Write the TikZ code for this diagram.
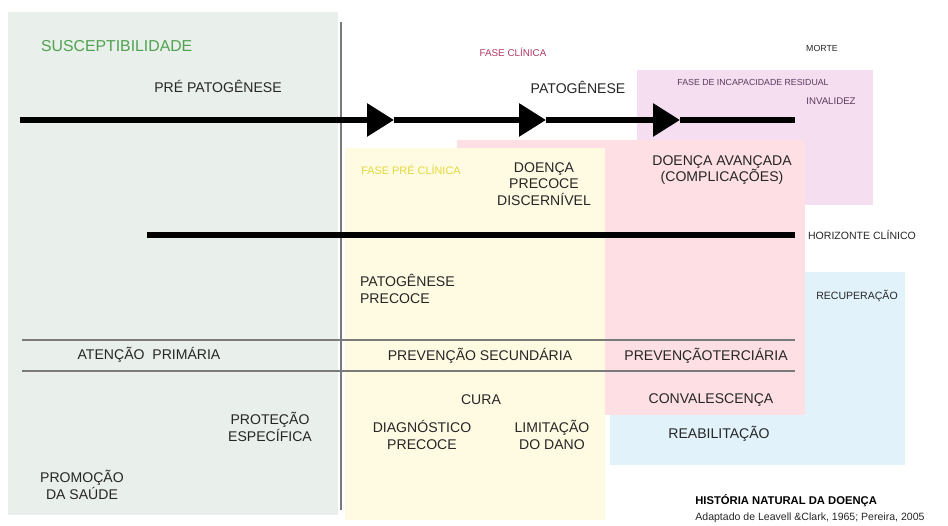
\documentclass[tikz,border=0pt]{standalone}
\usepackage{fontspec}
\setsansfont{Liberation Sans}
\usetikzlibrary{arrows.meta,positioning}
\definecolor{PanelGreen}{HTML}{E9EFEA}
\definecolor{PanelYellow}{HTML}{FFFBE2}
\definecolor{PanelPink}{HTML}{FDDFE4}
\definecolor{PanelLilac}{HTML}{F5DEF0}
\definecolor{PanelBlue}{HTML}{E2F2FB}
\definecolor{TextGray}{HTML}{262626}
\definecolor{LineGray}{HTML}{7A7A7A}
\definecolor{SuscGreen}{HTML}{4FA24F}
\definecolor{ClinRed}{HTML}{B23A62}
\definecolor{PreYellow}{HTML}{E2D83A}
\definecolor{LilacText}{HTML}{5A3A5E}

\begin{document}
\begin{tikzpicture}[
    font=\sffamily,
    panel/.style={fill=#1, draw=none, inner sep=0pt},
    lbl/.style={font=\sffamily\fontsize{8}{9.5}\selectfont, text=TextGray, align=center, inner sep=1pt},
    minilbl/.style={font=\sffamily\fontsize{5.6}{6.5}\selectfont, text=#1, inner sep=1pt},
    minilbl/.default=TextGray,
    timeline/.style={draw=black, line width=3.4pt},
    divider/.style={draw=LineGray, line width=1pt},
    bigtip/.style={-{Triangle[length=0.54cm, width=0.64cm]}}
]
  \useasboundingbox (0,0) rectangle (18.96,10.52);

  % Paineis de fundo
  \node[panel=PanelBlue, minimum width=5.9cm, minimum height=3.86cm] (p_rec) at (15.15, 3.15) {};
  \node[panel=PanelLilac, minimum width=4.72cm, minimum height=2.7cm] (p_inc) at (15.1, 7.77) {};
  \node[panel=PanelPink, minimum width=6.96cm, minimum height=5.5cm] (p_clin) at (12.62, 4.97) {};
  \node[panel=PanelYellow, minimum width=5.2cm, minimum height=7.44cm] (p_pre) at (9.5, 3.84) {};
  \node[panel=PanelGreen, minimum width=6.6cm, minimum height=10.06cm] (p_susc) at (3.46, 5.25) {};

  % =========================================================================
  % LINHAS
  % =========================================================================
  \coordinate (v_top) at (6.82, 10.08);
  \coordinate (v_bot) at (6.82, 0.32);
  \draw[divider] (v_top) -- (v_bot);

  \coordinate (d1_l) at (0.44, 3.72);
  \coordinate (d1_r) at (15.9, 3.72);
  \coordinate (d2_l) at (0.44, 3.1);
  \coordinate (d2_r) at (15.9, 3.1);
  \draw[divider] (d1_l) -- (d1_r);
  \draw[divider] (d2_l) -- (d2_r);

  % linha do tempo com setas
  \coordinate (t_0) at (0.4, 8.12);
  \coordinate (t_1) at (7.88, 8.12);
  \coordinate (t_2) at (10.92, 8.12);
  \coordinate (t_3) at (13.6, 8.12);
  \coordinate (t_4) at (15.9, 8.12);
  \draw[timeline, bigtip] (t_0) -- (t_1);
  \draw[timeline, bigtip] (t_1) -- (t_2);
  \draw[timeline, bigtip] (t_2) -- (t_3);
  \draw[timeline] (t_3) -- (t_4);

  % horizonte clinico
  \coordinate (h_0) at (2.94, 5.82);
  \coordinate (h_1) at (15.9, 5.82);
  \draw[timeline] (h_0) -- (h_1);

  % =========================================================================
  % TEXTOS SUPERIORES
  % =========================================================================
  \node[lbl, text=SuscGreen, font=\sffamily\fontsize{9}{10}\selectfont, anchor=west] (susc) at (0.78, 9.6) {SUSCEPTIBILIDADE};
  \node[lbl] (prepat) at (4.36, 8.8) {PRÉ PATOGÊNESE};
  \node[minilbl=ClinRed] (fclin) at (10.26, 9.48) {FASE CLÍNICA};
  \node[minilbl, font=\sffamily\fontsize{5}{6}\selectfont] (morte) at (16.44, 9.56) {MORTE};
  \node[lbl] (pat) at (11.56, 8.78) {PATOGÊNESE};
  \node[minilbl=LilacText, font=\sffamily\fontsize{5}{6}\selectfont] (fincap) at (15.06, 8.88) {FASE DE INCAPACIDADE RESIDUAL};
  \node[minilbl=LilacText, font=\sffamily\fontsize{5.5}{6}\selectfont] (inval) at (16.62, 8.5) {INVALIDEZ};

  \node[minilbl=PreYellow, font=\sffamily\fontsize{6.2}{7}\selectfont] (fpre) at (8.22, 7.12) {FASE PRÉ CLÍNICA};
  \node[lbl] (dprec) at (10.88, 6.84) {DOENÇA\\PRECOCE\\DISCERNÍVEL};
  \node[lbl] (dav) at (14.44, 7.12) {DOENÇA AVANÇADA\\(COMPLICAÇÕES)};
  \node[minilbl, font=\sffamily\fontsize{6}{7}\selectfont, anchor=west] (horiz) at (16.12, 5.82) {HORIZONTE CLÍNICO};

  \node[lbl, align=left, anchor=west] (patprec) at (7.16, 4.74) {PATOGÊNESE\\PRECOCE};
  \node[minilbl, font=\sffamily\fontsize{6}{7}\selectfont] (recup) at (17.14, 4.6) {RECUPERAÇÃO};

  % =========================================================================
  % NIVEIS DE PREVENCAO
  % =========================================================================
  \node[lbl] (aprim) at (2.98, 3.42) {ATENÇÃO\ \ PRIMÁRIA};
  \node[lbl] (psec) at (9.6, 3.4) {PREVENÇÃO SECUNDÁRIA};
  \node[lbl] (pter) at (14.12, 3.4) {PREVENÇÃOTERCIÁRIA};

  \node[lbl] (cura) at (9.62, 2.52) {CURA};
  \node[lbl] (diag) at (8.44, 1.82) {DIAGNÓSTICO\\PRECOCE};
  \node[lbl] (limit) at (11.04, 1.82) {LIMITAÇÃO\\DO DANO};
  \node[lbl] (conv) at (14.22, 2.52) {CONVALESCENÇA};
  \node[lbl] (reab) at (14.38, 1.84) {REABILITAÇÃO};
  \node[lbl] (prot) at (5.4, 1.98) {PROTEÇÃO\\ESPECÍFICA};
  \node[lbl] (promo) at (1.64, 0.82) {PROMOÇÃO\\DA SAÚDE};

  % rodape
  \node[font=\sffamily\bfseries\fontsize{6.4}{7}\selectfont, text=black, anchor=west, inner sep=0pt] (titulo) at (13.9, 0.5) {HISTÓRIA NATURAL DA DOENÇA};
  \node[font=\sffamily\fontsize{6}{7}\selectfont, text=TextGray, anchor=west, inner sep=0pt] (fonte) at (13.9, 0.16) {Adaptado de Leavell \&Clark, 1965; Pereira, 2005};

\end{tikzpicture}
\end{document}
